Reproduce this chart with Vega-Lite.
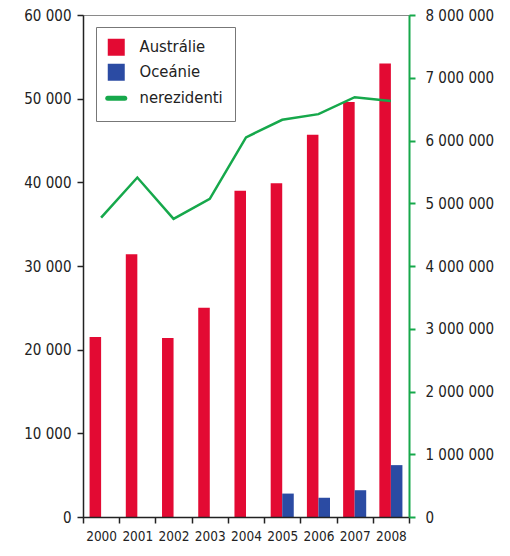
{
  "$schema": "https://vega.github.io/schema/vega-lite/v6.json",
  "width": 326,
  "height": 502,
  "autosize": {"type": "none"},
  "padding": {"left": 83, "top": 15, "right": 101, "bottom": 39},
  "background": "white",
  "config": {
    "view": {"stroke": "#8a8a8a", "strokeWidth": 1},
    "locale": {"number": {"decimal": ",", "thousands": " ", "grouping": [3], "currency": ["", ""]}},
    "axis": {
      "labelFont": "DejaVu Sans Condensed",
      "labelFontSize": 15,
      "labelColor": "#222",
      "grid": false,
      "title": null,
      "domainColor": "#222",
      "tickColor": "#222",
      "domainWidth": 1.5,
      "tickWidth": 1.5,
      "tickSize": 6
    }
  },
  "datasets": {
    "bars": [
      {"year": "2000", "series": "Austrálie", "value": 21500},
      {"year": "2001", "series": "Austrálie", "value": 31400},
      {"year": "2002", "series": "Austrálie", "value": 21400},
      {"year": "2003", "series": "Austrálie", "value": 25000},
      {"year": "2004", "series": "Austrálie", "value": 39000},
      {"year": "2005", "series": "Austrálie", "value": 39900},
      {"year": "2006", "series": "Austrálie", "value": 45700},
      {"year": "2007", "series": "Austrálie", "value": 49600},
      {"year": "2008", "series": "Austrálie", "value": 54200},
      {"year": "2005", "series": "Oceánie", "value": 2800},
      {"year": "2006", "series": "Oceánie", "value": 2300},
      {"year": "2007", "series": "Oceánie", "value": 3200},
      {"year": "2008", "series": "Oceánie", "value": 6200}
    ],
    "visitors": [
      {"year": "2000", "nerezidenti": 4770000},
      {"year": "2001", "nerezidenti": 5410000},
      {"year": "2002", "nerezidenti": 4750000},
      {"year": "2003", "nerezidenti": 5070000},
      {"year": "2004", "nerezidenti": 6050000},
      {"year": "2005", "nerezidenti": 6330000},
      {"year": "2006", "nerezidenti": 6420000},
      {"year": "2007", "nerezidenti": 6690000},
      {"year": "2008", "nerezidenti": 6630000}
    ]
  },
  "layer": [
    {
      "data": {"name": "bars"},
      "mark": {"type": "bar"},
      "encoding": {
        "x": {
          "field": "year",
          "type": "ordinal",
          "scale": {"paddingInner": 0, "paddingOuter": 0},
          "axis": {"labelAngle": 0, "tickBand": "extent", "labelPadding": 6, "labelFontSize": 13.5, "zindex": 1}
        },
        "xOffset": {
          "field": "series",
          "type": "nominal",
          "scale": {"domain": ["Austrálie", "Oceánie"], "paddingInner": 0, "paddingOuter": 0.57}
        },
        "y": {
          "field": "value",
          "type": "quantitative",
          "scale": {"domain": [0, 60000], "nice": false},
          "axis": {"values": [0, 10000, 20000, 30000, 40000, 50000, 60000], "format": ",d", "labelPadding": 6, "zindex": 1}
        },
        "color": {
          "field": "series",
          "type": "nominal",
          "scale": {"domain": ["Austrálie", "Oceánie", "nerezidenti"], "range": ["#E30A33", "#2B4BA3", "#16A84B"]},
          "legend": {
            "title": null,
            "orient": "none",
            "legendX": 13,
            "legendY": 12,
            "padding": 12,
            "strokeColor": "#777",
            "fillColor": "white",
            "symbolType": "square",
            "symbolSize": 289,
            "labelFont": "DejaVu Sans Condensed",
            "labelFontSize": 16.5,
            "labelColor": "#222",
            "labelOffset": 15,
            "rowPadding": 7,
            "encode": {
              "symbols": {
                "update": {
                  "shape": {"signal": "datum.value === 'nerezidenti' ? 'stroke' : 'square'"},
                  "stroke": {"signal": "datum.value === 'nerezidenti' ? '#16A84B' : 'transparent'"},
                  "strokeWidth": {"signal": "datum.value === 'nerezidenti' ? 5 : 0"},
                  "strokeCap": {"value": "round"}
                }
              }
            }
          }
        }
      }
    },
    {
      "data": {"name": "visitors"},
      "mark": {"type": "line", "strokeWidth": 2.5, "color": "#16A84B"},
      "encoding": {
        "x": {"field": "year", "type": "ordinal"},
        "y": {
          "field": "nerezidenti",
          "type": "quantitative",
          "scale": {"domain": [0, 8000000], "nice": false},
          "axis": {
            "orient": "right",
            "values": [0, 1000000, 2000000, 3000000, 4000000, 5000000, 6000000, 7000000, 8000000],
            "format": ",d",
            "domainColor": "#16A84B",
            "tickColor": "#16A84B",
            "domainWidth": 2,
            "tickWidth": 2,
            "labelPadding": 10,
            "zindex": 1
          }
        }
      }
    }
  ],
  "resolve": {"scale": {"y": "independent"}}
}
